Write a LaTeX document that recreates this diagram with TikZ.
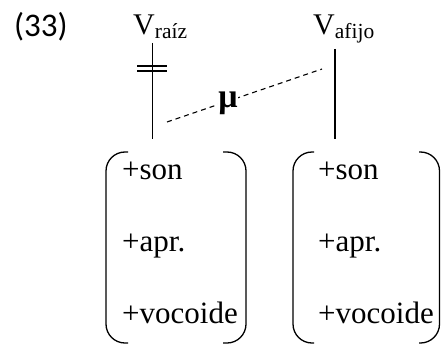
\documentclass[tikz,border=0pt]{standalone}
\usepackage{fontspec}
\setmainfont{Liberation Serif}
\newfontfamily\numfont{Carlito}
\begin{document}
\begin{tikzpicture}[x=1pt,y=-1pt,
  feat/.style={inner sep=0pt, anchor=base west, font=\fontsize{31}{36}\selectfont},
  head/.style={inner sep=0pt, anchor=base west, font=\fontsize{30}{34}\selectfont},
  assoc/.style={line width=1.2pt},
  brk/.style={line width=1.3pt, rounded corners=19pt}]
\useasboundingbox (0,0) rectangle (441,345);
% example number
\node[anchor=base west, inner sep=0pt, font=\numfont\fontsize{33}{38}\selectfont] (ex) at (14,37) {(33)};
% heads
\node[head] (vr) at (133,35) {V\raisebox{-4pt}{\fontsize{21.5}{25}\selectfont raíz}};
\node[head] (va) at (313,35) {V\raisebox{-4pt}{\fontsize{21.5}{25}\selectfont afijo}};
% association lines
\coordinate (rt) at (152.5,43);
\coordinate (rb) at (152.5,139);
\coordinate (at) at (335,49);
\coordinate (ab) at (335,139);
\draw[assoc] (rt) -- (rb);
\draw[assoc] (at) -- (ab);
% delinking bar
\coordinate (b1l) at (137,65.8); \coordinate (b1r) at (167,65.8);
\coordinate (b2l) at (137,70.6); \coordinate (b2r) at (167,70.6);
\draw[line width=1.8pt] (b1l) -- (b1r);
\draw[line width=1.8pt] (b2l) -- (b2r);
% dashed link with mu
\coordinate (d1) at (167,122);
\coordinate (d2) at (322,69);
\draw[line width=1.1pt, dash pattern=on 5pt off 4pt] (d1) -- (d2);
\node[fill=white, inner sep=0.3pt, anchor=base, font=\bfseries\fontsize{34}{38}\selectfont] (mu) at (228,107) {μ};
% left matrix
\node[feat] (l1) at (122,179) {+son};
\node[feat] (l2) at (122,251) {+apr.};
\node[feat] (l3) at (122,323) {+vocoide};
\draw[brk] (128,152) -- (106,152) -- (106,343) -- (128,343);
\draw[brk] (223,152) -- (246,152) -- (246,343) -- (223,343);
% right matrix
\node[feat] (r1) at (318,179) {+son};
\node[feat] (r2) at (318,251) {+apr.};
\node[feat] (r3) at (318,323) {+vocoide};
\draw[brk] (314,152) -- (293,152) -- (293,343) -- (314,343);
\draw[brk] (419,152) -- (439.5,152) -- (439.5,343) -- (419,343);
\end{tikzpicture}
\end{document}
